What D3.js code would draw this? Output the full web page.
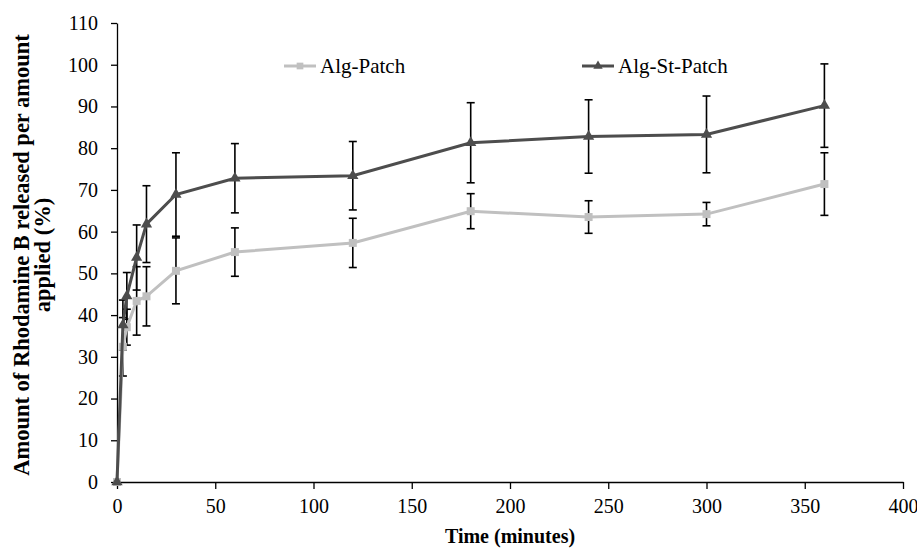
<!DOCTYPE html>
<html>
<head>
<meta charset="utf-8">
<script src="https://cdn.jsdelivr.net/npm/d3@7"></script>
<style>
  body { margin: 0; background: #fff; }
  svg text { font-family: "Liberation Serif", "Times New Roman", serif; }
  .axis path, .axis line { stroke: #000; stroke-width: 1.3; }
  .axis text { font-size: 20px; fill: #000; font-family: "Liberation Serif", serif; }
</style>
</head>
<body>
<svg id="chart" width="917" height="550"></svg>
<script>
// release data, minutes vs % released
let times = [0, 3, 5, 10, 15, 30, 60, 120, 180, 240, 300, 360]
let algPatch = [0, 32.4, 37.1, 43.4, 44.5, 50.6, 55.1, 57.3, 64.9, 63.5, 64.2, 71.4]
let algPatchErr = [0, 7, 4.3, 8.2, 7.1, 7.9, 5.8, 5.9, 4.2, 3.9, 2.8, 7.5]
let algStPatch = [0, 37.6, 44.6, 53.8, 61.8, 68.9, 72.8, 73.4, 81.3, 82.8, 83.3, 90.2]
let algStErr = [0, 6, 5.6, 7.8, 9.2, 10, 8.3, 8.2, 9.6, 8.8, 9.2, 10]
let xTicks = [0, 50, 100, 150, 200, 250, 300, 350, 400]
let yTicks = [0, 10, 20, 30, 40, 50, 60, 70, 80, 90, 100, 110]

let margin = {top: 23, bottom: 68, left: 117, right: 14}
let width = 917, height = 550
let w = width - margin.left - margin.right
let h = height - margin.top - margin.bottom

let svg = d3.select("#chart")
let g = svg.append("g").attr("transform", "translate(" + margin.left + "," + margin.top + ")")

let xScale = d3.scaleLinear().domain([0, 400]).range([0, w])
let yScale = d3.scaleLinear().domain([0, 110]).range([h, 0])

g.append("g")
  .attr("class", "axis")
  .attr("font-family", "Liberation Serif")
  .attr("transform", "translate(0," + h + ")")
  .call(d3.axisBottom(xScale).tickValues(xTicks).tickSize(7).tickSizeOuter(0).tickPadding(10))

g.append("g")
  .attr("class", "axis")
  .attr("font-family", "Liberation Serif")
  .call(d3.axisLeft(yScale).tickValues(yTicks).tickSize(6).tickSizeOuter(0).tickPadding(13))

// axis titles
svg.append("text")
  .attr("x", margin.left + xScale(200))
  .attr("y", 543)
  .attr("text-anchor", "middle")
  .style("font-size", "20px")
  .style("font-weight", "bold")
  .text("Time (minutes)")

let yl = svg.append("text")
  .attr("text-anchor", "middle")
  .attr("transform", "translate(29,255) rotate(-90)")
  .style("font-size", "22.5px")
  .style("font-weight", "bold")
yl.append("tspan").attr("x", 0).attr("y", 0).text("Amount of Rhodamine B released per amount")
yl.append("tspan").attr("x", 0).attr("y", 21).text("applied (%)")

let series = [
  {name: "Alg-Patch", vals: algPatch, err: algPatchErr, color: "#c0c0c0", mark: d3.symbolSquare, size: 64, lx: 284},
  {name: "Alg-St-Patch", vals: algStPatch, err: algStErr, color: "#4d4d4d", mark: d3.symbolTriangle, size: 55, lx: 582}
]

let line = d3.line()
  .x(d => xScale(d.t))
  .y(d => yScale(d.v))

series.forEach(s => {
  let pts = times.map((t, i) => ({t: t, v: s.vals[i], e: s.err[i]}))
  s.pts = pts
  // error bars
  let eb = g.append("g").attr("stroke", "#000").attr("stroke-width", 1.6)
  pts.filter(d => d.e > 0).forEach(d => {
    let x = xScale(d.t)
    eb.append("line").attr("x1", x).attr("x2", x).attr("y1", yScale(d.v - d.e)).attr("y2", yScale(d.v + d.e))
    eb.append("line").attr("x1", x - 4).attr("x2", x + 4).attr("y1", yScale(d.v - d.e)).attr("y2", yScale(d.v - d.e))
    eb.append("line").attr("x1", x - 4).attr("x2", x + 4).attr("y1", yScale(d.v + d.e)).attr("y2", yScale(d.v + d.e))
  })
})

series.forEach(s => {
  g.append("path")
    .datum(s.pts)
    .attr("d", line)
    .attr("fill", "none")
    .attr("stroke", s.color)
    .attr("stroke-width", 3)
  g.selectAll(null)
    .data(s.pts)
    .enter().append("path")
    .attr("d", d3.symbol().type(s.mark).size(s.size))
    .attr("transform", d => "translate(" + xScale(d.t) + "," + yScale(d.v) + ")")
    .attr("fill", s.color)

  // legend
  let lg = svg.append("g").attr("transform", "translate(" + s.lx + ",66)")
  lg.append("line").attr("x1", 0).attr("x2", 32).attr("stroke", s.color).attr("stroke-width", 3)
  lg.append("path").attr("d", d3.symbol().type(s.mark).size(s.size * 0.7)).attr("transform", "translate(16,0)").attr("fill", s.color)
  lg.append("text").attr("x", 36).attr("y", 7).style("font-size", "21px").text(s.name)
})
</script>
</body>
</html>
